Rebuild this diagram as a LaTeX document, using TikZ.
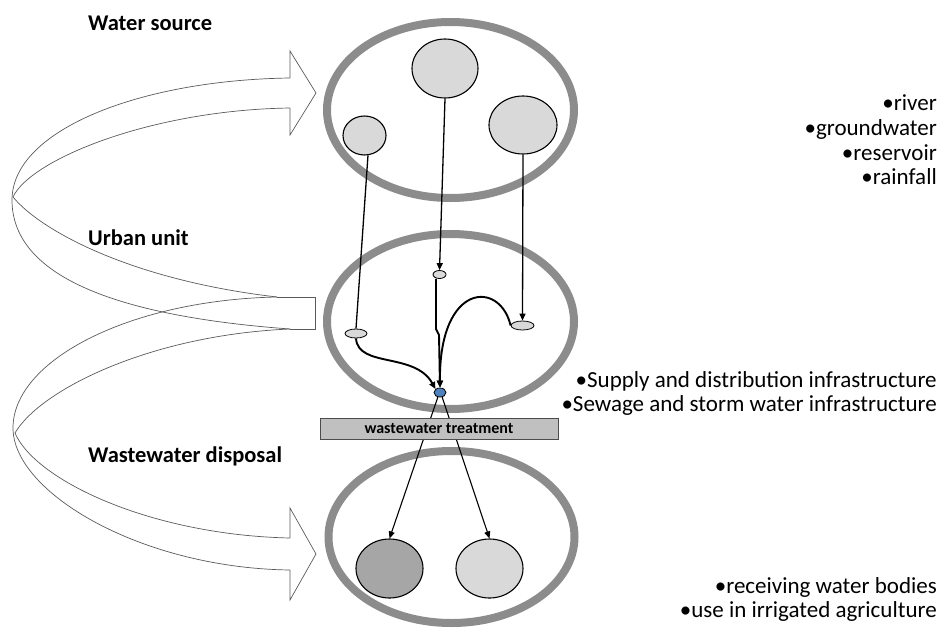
\documentclass[tikz,border=0pt]{standalone}
\usepackage{fontspec}
\setmainfont{Carlito}
\usetikzlibrary{arrows.meta,shapes.geometric}
\definecolor{ringgray}{RGB}{140,140,140}
\definecolor{ballgray}{RGB}{217,217,217}
\definecolor{darkball}{RGB}{166,166,166}
\definecolor{bargray}{RGB}{192,192,192}
\definecolor{hubblue}{RGB}{79,129,189}
\definecolor{ribbon}{RGB}{90,90,90}
\begin{document}
\begin{tikzpicture}[x=1pt,y=-1pt,
  bigell/.style={draw=ringgray, line width=8pt, ellipse, inner sep=0pt},
  ball/.style={draw=black, line width=1.1pt, ellipse, inner sep=0pt, fill=ballgray},
  junc/.style={draw=black, line width=0.8pt, ellipse, inner sep=0pt, fill=ballgray},
  tip/.style={-{Triangle[length=7pt,width=6pt]}},
  flow/.style={line width=1.3pt, tip},
  flowthick/.style={line width=1.9pt, tip},
  ribline/.style={draw=ribbon, line width=0.7pt},
  head/.style={font=\bfseries\fontsize{22.5}{27}\selectfont, anchor=base west, inner sep=0pt},
  note/.style={font=\fontsize{23}{28}\selectfont, anchor=base east, inner sep=0pt}
]
\useasboundingbox (0,0) rectangle (940,629);

% big rings
\node[bigell, minimum width=247pt, minimum height=176pt] (ws) at (450.5,110) {};
\node[bigell, minimum width=247pt, minimum height=175pt] (uu) at (450.5,321.5) {};
\node[bigell, minimum width=246pt, minimum height=172pt] (wd) at (451.5,537) {};

% source circles
\node[ball, minimum width=43pt, minimum height=39pt] (src1) at (364.5,135.5) {};
\node[ball, minimum width=66pt, minimum height=59pt] (src2) at (445,68.5) {};
\node[ball, minimum width=68pt, minimum height=58pt] (src3) at (523,125) {};

% urban junctions
\node[junc, minimum width=22pt, minimum height=9pt] (u1) at (356,333.5) {};
\node[junc, minimum width=13pt, minimum height=8pt] (u2) at (439.5,274.5) {};
\node[junc, minimum width=23pt, minimum height=9pt] (u3) at (522.5,325.5) {};
\node[draw=black, line width=0.8pt, ellipse, inner sep=0pt, fill=hubblue,
      minimum width=12pt, minimum height=9pt] (hub) at (440,392.5) {};

% disposal circles
\node[ball, fill=darkball, minimum width=67pt, minimum height=59pt] (d1) at (389.5,568.5) {};
\node[ball, minimum width=67pt, minimum height=59pt] (d2) at (489.5,568.5) {};

% connectors source -> urban
\draw[line width=1.3pt] (src1.-80) -- (u1.north);
\draw[flow] (src2.south) -- (u2.north);
\draw[flow] (src3.south) -- (u3.north);

% urban -> hub
\coordinate (j1) at (436,329);
\coordinate (j2) at (439,335);
\draw[flowthick] (u2.south -| j1) -- (j1) -- (j2) -- (hub.north);
\draw[flowthick] (u1.south) .. controls (358,368) and (415,352) .. (hub.north west);
\draw[flowthick] (u3.west) .. controls (500,280) and (439,282) .. (hub.north);

% hub -> disposal (behind the treatment bar)
\draw[flow, line width=1.1pt] (hub.-115) -- (d1.north);
\draw[flow, line width=1.1pt] (hub.-65) -- (d2.north);

% treatment bar
\node[draw=black!70, line width=1pt, fill=bargray, minimum width=238pt, minimum height=21pt,
      inner sep=0pt, font=\bfseries\fontsize{16}{19}\selectfont] (trt) at (439,428.5) {wastewater treatment};

% curved block arrows (ribbon)
\coordinate (tl) at (277,297);
\coordinate (tr) at (315,297);
\coordinate (br) at (315,329);
\coordinate (bl) at (290,329);
\draw[ribline] (tl) -- (tr) -- (br) -- (bl);
% upper arrow
\draw[ribline] (290,108) .. controls (150,110) and (30,160) .. (13,197)
  .. controls (40,230) and (130,280) .. (tl);
\draw[ribline] (290,78) .. controls (140,80) and (12,130) .. (12,200)
  .. controls (12,270) and (100,315) .. (bl);
\draw[ribline] (290,78) -- (290,51) -- (316,93) -- (290,135) -- (290,108);
% lower arrow
\draw[ribline] (tl) .. controls (130,300) and (13,360) .. (13,428)
  .. controls (13,492) and (140,568) .. (290,570);
\draw[ribline] (bl) .. controls (150,335) and (40,390) .. (15,433)
  .. controls (35,480) and (150,535) .. (290,538);
\draw[ribline] (290,538) -- (290,508) -- (316,554) -- (290,600) -- (290,570);

% headings
\node[head] (h1) at (88,30.7) {Water source};
\node[head] (h2) at (88,245) {Urban unit};
\node[head] (h3) at (88,462) {Wastewater disposal};

% notes
\node[note] (n1) at (937,110.5) {•river};
\node[note] (n2) at (937,135) {•groundwater};
\node[note] (n3) at (937,160) {•reservoir};
\node[note] (n4) at (937,184.5) {•rainfall};
\node[note] (n5) at (937,387) {•Supply and distribution infrastructure};
\node[note] (n6) at (937,411) {•Sewage and storm water infrastructure};
\node[note] (n7) at (937,593) {•receiving water bodies};
\node[note] (n8) at (937,617) {•use in irrigated agriculture};
\end{tikzpicture}
\end{document}
